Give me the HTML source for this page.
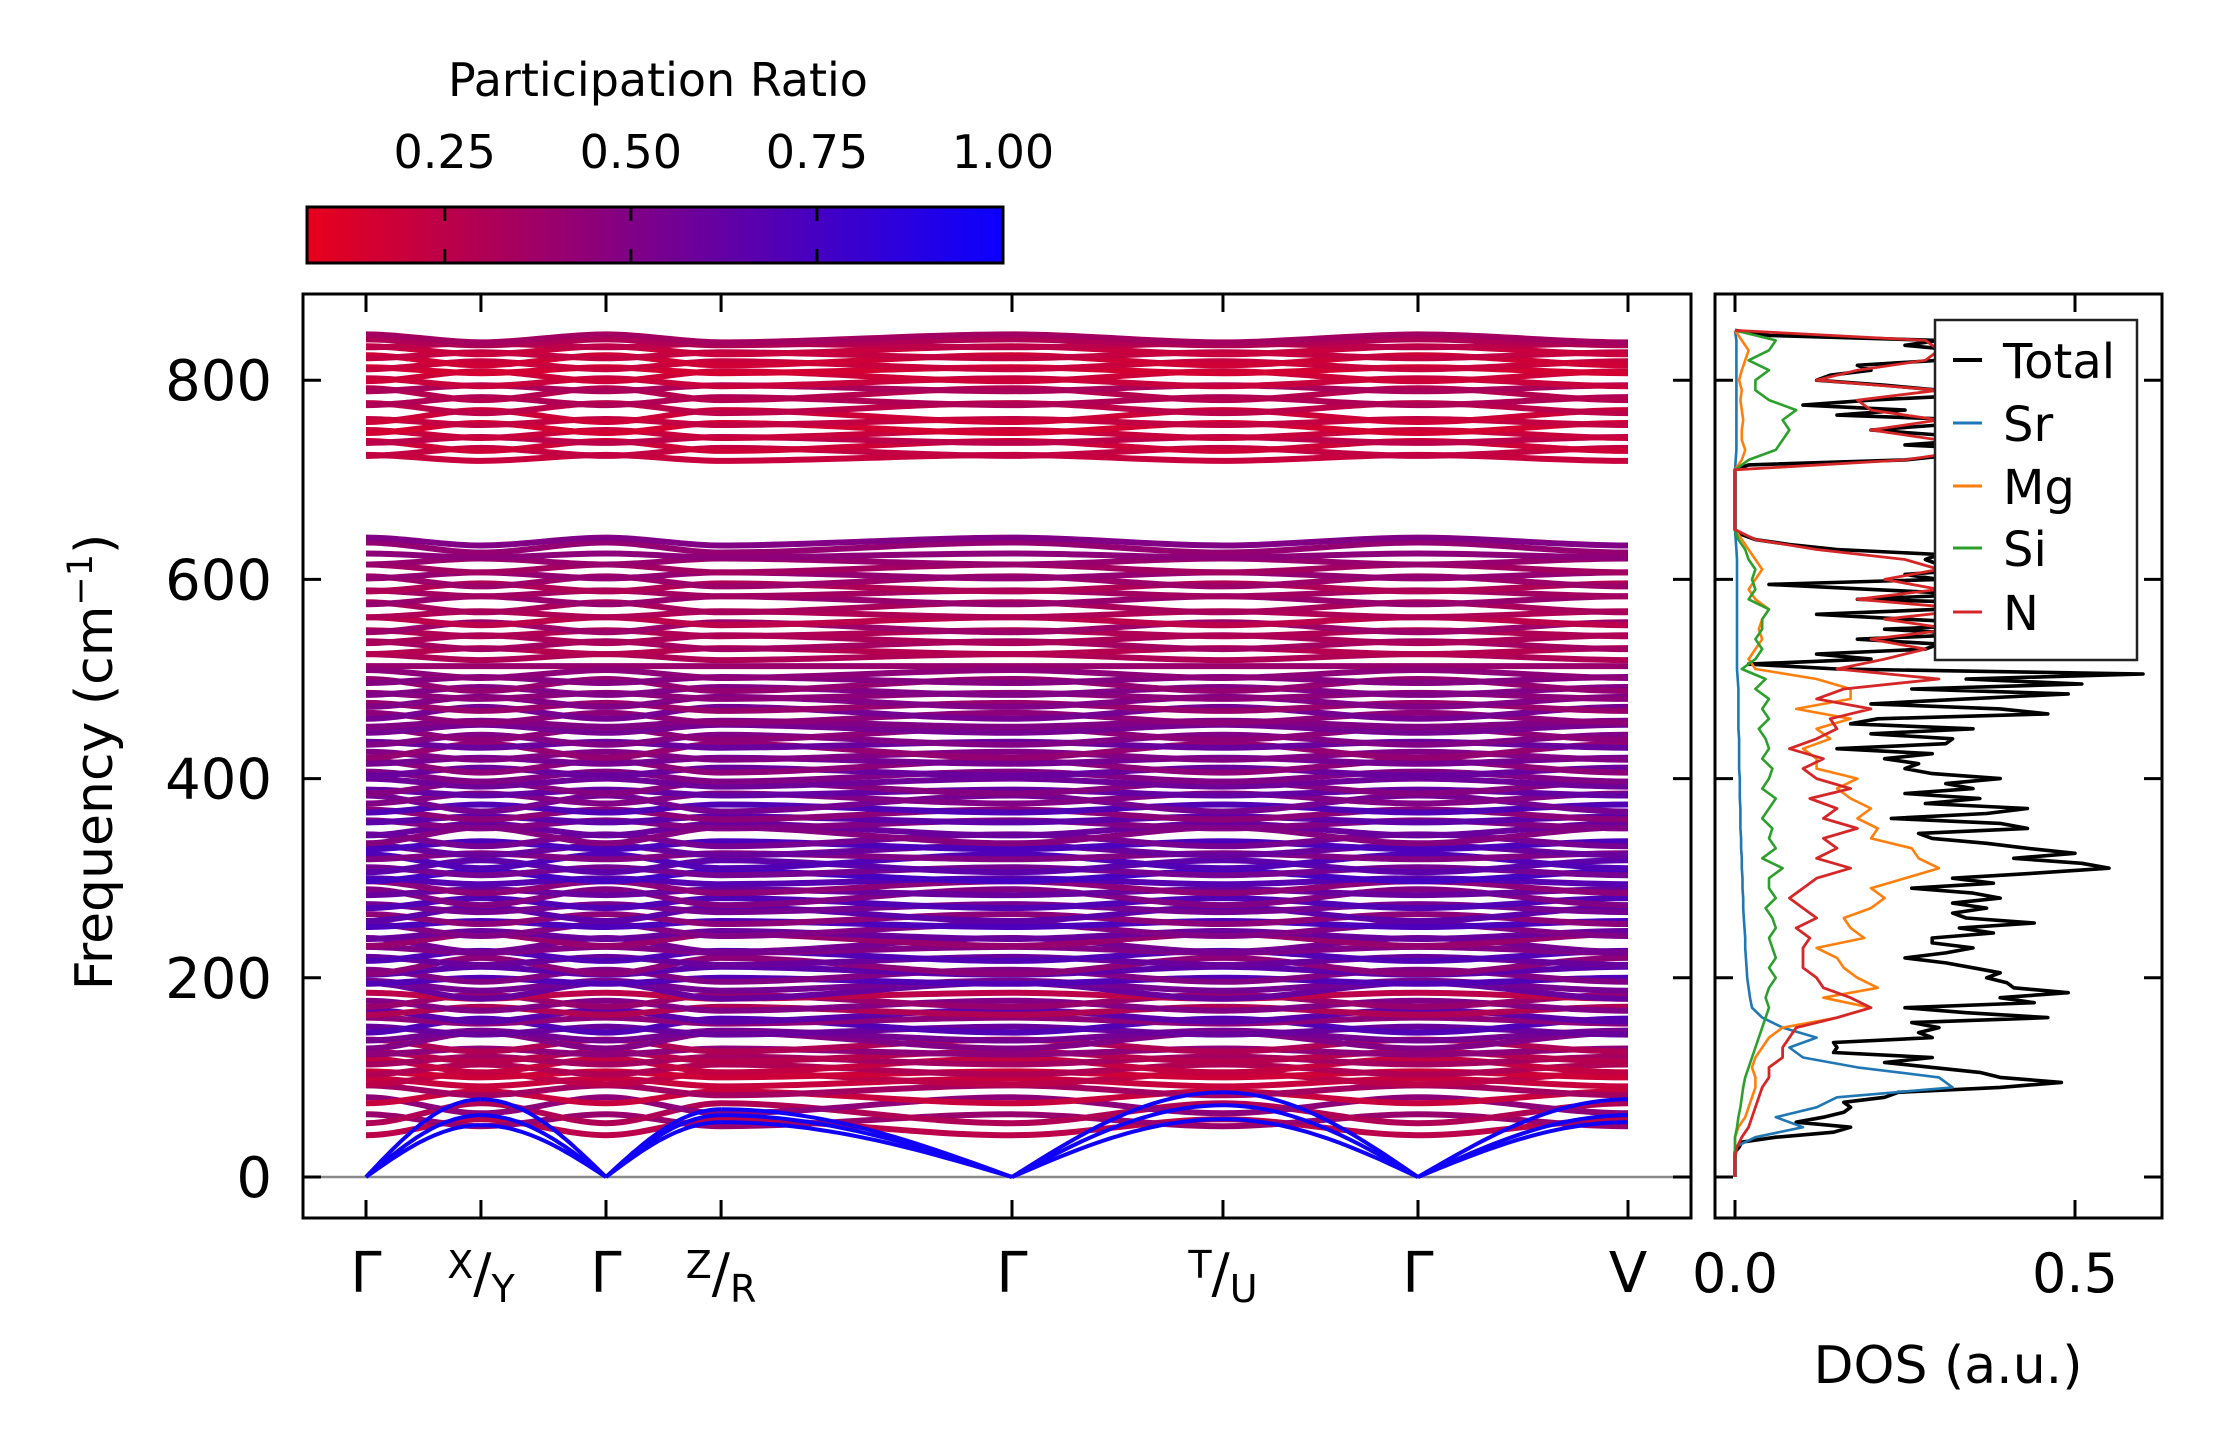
<!DOCTYPE html>
<html><head><meta charset="utf-8"><title>Phonon band structure and DOS</title>
<style>
html,body{margin:0;padding:0;background:#fff;}
svg{display:block;font-family:"DejaVu Sans","Liberation Sans",sans-serif;}
</style></head>
<body>
<svg id="fig" width="2222" height="1455" viewBox="0 0 2222 1455" xmlns="http://www.w3.org/2000/svg">
<defs>
<linearGradient id="cmap" x1="0" x2="1" y1="0" y2="0">
<stop offset="0" stop-color="rgb(232,0,28)"/>
<stop offset="1" stop-color="rgb(10,0,255)"/>
</linearGradient>
<clipPath id="mainClip"><rect x="303" y="294" width="1388" height="924"/></clipPath>
<clipPath id="dosClip"><rect x="1715" y="294" width="447" height="924"/></clipPath>
</defs>
<g id="colorbar"></g>
<g id="main"></g>
<g id="dos"></g>
</svg>
<script>
// ---------- Band structure data ----------
const kLabels = ["Γ","X/Y","Γ","Z/R","Γ","T/U","Γ","V"];
const kPos = [0.0454,0.1282,0.2183,0.3012,0.5108,0.6628,0.8033,0.9546]; // fractional position along axis
const bandFreq = [
722,728,734,740,746,752,758,764,772,779,786,792,798,804,810,815,820,825,830,835,838,842,
513,522,528,534,540,546,552,558,565,572,579,586,592,598,604,611,618,624,632,638,
50,57,64,72,80,87,
95,99,103,108,112,117,121,126,132,137,142,147,152,157,162,167,172,177,182,187,
192,197,202,207,212,217,222,228,233,238,243,248,254,259,264,270,275,281,286,291,
297,302,307,312,317,322,328,333,338,343,349,354,359,364,370,375,380,386,391,396,
402,407,412,418,423,428,434,439,445,450,455,461,466,472,477,483,488,494,499,505];
const bandDisp = [
3,-4,5,-3,4,-5,3,-6,5,-4,6,-3,4,-5,3,-4,5,-3,4,-2,3,4,
0,3,-3,4,-4,3,-5,4,-3,5,-4,3,-4,5,-3,4,-3,2,5,4,
-8,6,-10,8,-6,5,
4,-6,3,-5,7,-4,5,-3,6,-8,-5,4,-7,3,6,-4,5,-6,3,8,
5,-3,6,-4,-8,4,-5,3,7,-6,-4,6,-3,5,-7,4,-5,8,-3,6,
3,-5,4,-6,7,-3,5,-4,6,-8,-6,4,-3,5,-4,8,-5,3,-6,4,
5,-4,6,-3,4,-7,3,-5,6,-4,-3,5,-6,4,-5,3,-4,6,-3,4];
const bandPR = [
.2,.22,.18,.25,.2,.15,.22,.18,.25,.3,.28,.32,.2,.18,.15,.2,.17,.22,.2,.25,.3,.35,
.4,.3,.28,.35,.32,.3,.38,.25,.3,.33,.4,.35,.3,.38,.42,.35,.4,.45,.42,.5,
.25,.4,.3,.45,.2,.35,
.2,.25,.18,.3,.22,.35,.28,.45,.3,.5,.55,.6,.7,.45,.65,.3,.5,.4,.25,.6,
.55,.7,.5,.65,.45,.6,.7,.5,.55,.4,.6,.5,.72,.45,.65,.55,.7,.5,.6,.45,
.68,.75,.55,.65,.7,.5,.6,.72,.55,.48,.6,.5,.65,.45,.7,.55,.5,.62,.48,.58,
.5,.6,.45,.55,.5,.42,.6,.5,.45,.55,.5,.45,.55,.4,.5,.45,.5,.42,.48,.45];
const acousticX = [52,62,78];
const acousticZ = [55,62,68];
const acousticT = [58,72,85];
const acousticV = [55,62,78];
const freqTicks = [0,200,400,600,800];
const cbarTicks = [0.25,0.50,0.75,1.00];
const cbarMin = 0.065, cbarMax = 1.0;

// ---------- DOS data ----------
const dosTotal = [
0,0,0,0,0,0,0.006,0.01,0.06,0.145,
0.17,0.09,0.13,0.16,0.17,0.16,0.22,0.24,0.39,0.48,
0.39,0.36,0.29,0.22,0.29,0.145,0.15,0.145,0.29,0.27,
0.3,0.26,0.46,0.34,0.25,0.44,0.39,0.49,0.41,0.40,
0.37,0.39,0.35,0.31,0.25,0.31,0.35,0.29,0.29,0.38,
0.33,0.44,0.34,0.32,0.37,0.32,0.39,0.35,0.26,0.38,
0.32,0.44,0.55,0.51,0.41,0.50,0.43,0.37,0.29,0.27,
0.43,0.39,0.23,0.37,0.43,0.28,0.36,0.25,0.35,0.31,
0.39,0.29,0.25,0.27,0.22,0.29,0.15,0.31,0.32,0.20,
0.35,0.17,0.21,0.46,0.39,0.20,0.34,0.49,0.26,0.51,
0.34,0.60,0.15,0.02,0.2,0.12,0.28,0.3,0.18,0.35,
0.22,0.4,0.25,0.12,0.3,0.45,0.18,0.35,0.2,0.05,
0.3,0.25,0.35,0.3,0.28,0.3,0.15,0.08,0.03,0.01,
0,0,0,0,0,0,0,0,0,0,
0,0,0,0.02,0.25,0.32,0.4,0.25,0.35,0.3,
0.2,0.3,0.35,0.15,0.25,0.1,0.2,0.35,0.3,0.22,
0.12,0.14,0.2,0.18,0.3,0.35,0.33,0.25,0.3,0.05,
0];
const dosTotalStep = 5;
const dosSr = [
0,0,0,0,0.03,0.1,0.06,0.12,0.15,0.32,
0.3,0.18,0.1,0.08,0.12,0.07,0.04,0.025,0.022,0.02,
0.018,0.017,0.016,0.015,0.015,0.014,0.013,0.012,0.012,0.011,
0.011,0.01,0.01,0.009,0.009,0.008,0.008,0.008,0.007,0.007,
0.007,0.006,0.006,0.006,0.006,0.005,0.005,0.005,0.005,0.005,
0.004,0.003,0.003,0.003,0.003,0.003,0.003,0.003,0.003,0.003,
0.003,0.003,0.003,0.002,0.001,0,0,0,0,0,
0,0,0.001,0.002,0.002,0.002,0.002,0.002,0.002,0.002,
0.002,0.002,0.002,0.002,0.002,0];
const dosMg = [
0,0,0,0,0,0.005,0.015,0.02,0.025,0.03,
0.03,0.025,0.03,0.04,0.05,0.07,0.15,0.2,0.13,0.21,
0.18,0.16,0.15,0.12,0.19,0.17,0.16,0.2,0.22,0.2,
0.25,0.3,0.27,0.26,0.2,0.21,0.18,0.2,0.17,0.15,
0.18,0.12,0.12,0.1,0.14,0.12,0.17,0.09,0.17,0.17,
0.12,0.03,0.02,0.03,0.04,0.035,0.04,0.05,0.03,0.02,
0.03,0.04,0.03,0.02,0.01,0,0,0,0,0,
0,0,0.01,0.015,0.01,0.01,0.012,0.01,0.008,0.01,
0.006,0.01,0.015,0.02,0.01,0];
const dosSi = [
0,0,0,0,0,0.003,0.005,0.008,0.01,0.012,
0.015,0.02,0.025,0.03,0.035,0.04,0.045,0.05,0.045,0.05,
0.06,0.05,0.06,0.055,0.05,0.06,0.055,0.045,0.06,0.05,
0.05,0.07,0.04,0.06,0.05,0.055,0.04,0.05,0.06,0.04,
0.05,0.055,0.04,0.05,0.045,0.035,0.05,0.04,0.05,0.03,
0.045,0.01,0.03,0.04,0.03,0.04,0.04,0.05,0.02,0.03,
0.025,0.03,0.02,0.015,0.005,0,0,0,0,0,
0,0,0.02,0.06,0.07,0.08,0.07,0.09,0.05,0.03,
0.03,0.05,0.02,0.05,0.06,0];
const dosN = [
0,0,0,0.003,0.01,0.02,0.025,0.03,0.035,0.04,
0.05,0.05,0.07,0.07,0.08,0.09,0.15,0.2,0.17,0.13,
0.12,0.1,0.1,0.1,0.11,0.09,0.12,0.1,0.08,0.1,
0.12,0.17,0.12,0.15,0.13,0.18,0.13,0.15,0.11,0.17,
0.12,0.1,0.13,0.08,0.12,0.15,0.14,0.2,0.12,0.16,
0.3,0.15,0.22,0.28,0.2,0.32,0.22,0.35,0.18,0.3,
0.22,0.3,0.25,0.12,0.03,0,0,0,0,0,
0,0,0.25,0.35,0.3,0.2,0.3,0.2,0.18,0.3,
0.12,0.18,0.28,0.3,0.28,0];
const dosStep = 10;
const dosTicks = [0.0, 0.5];
const legendNames = ["Total","Sr","Mg","Si","N"];
const legendColors = ["#000000","#1f77b4","#ff7f0e","#2ca02c","#d62728"];

// ---------- geometry ----------
const NS = "http://www.w3.org/2000/svg";
const M = {l:303, r:1691, t:294, b:1218};
const D = {l:1715, r:2162, t:294, b:1218};
const kx0 = 303, kw = 1388;
function xK(u){ return kx0 + u*kw; }
function yF(f){ return 1177 - f*0.996; }
function xD(v){ return 1735 + v*680; }
function prColor(p){
  const t = Math.max(0, Math.min(1, (p-cbarMin)/(cbarMax-cbarMin)));
  return "rgb(" + Math.round(232*(1-t)+10*t) + ",0," + Math.round(28*(1-t)+255*t) + ")";
}
function mk(tag, attrs, parent){
  const e = document.createElementNS(NS, tag);
  for (const k in attrs) e.setAttribute(k, attrs[k]);
  parent.appendChild(e);
  return e;
}
function txt(parent, x, y, s, size, anchor){
  const e = mk("text", {x:x, y:y, "font-size":size, "text-anchor":anchor||"middle", fill:"#000"}, parent);
  e.textContent = s;
  return e;
}

// ---------- colorbar ----------
const cb = document.getElementById("colorbar");
const cbL = 307, cbR = 1003, cbT = 207, cbB = 263;
function xCb(v){ return cbL + (v-cbarMin)/(cbarMax-cbarMin)*(cbR-cbL); }
const cbRect = mk("rect", {x:cbL, y:cbT, width:cbR-cbL, height:cbB-cbT, fill:"url(#cmap)", stroke:"#000", "stroke-width":3}, cb);


const cbTitle = txt(cb, 658, 96, "Participation Ratio", 46);


cbarTicks.forEach(function(v){
  const x = xCb(v);
  if (v < cbarMax) {
    const t1 = mk("line", {x1:x, x2:x, y1:cbT, y2:cbT+14, stroke:"#000", "stroke-width":3}, cb);
    
    
    const t2 = mk("line", {x1:x, x2:x, y1:cbB-14, y2:cbB, stroke:"#000", "stroke-width":3}, cb);
    
    
  }
  const l = txt(cb, x, 168, v.toFixed(2), 46);
  
  
});

// ---------- main panel ----------
const mg = document.getElementById("main");
const bandsG = mk("g", {"clip-path":"url(#mainClip)"}, mg);


const zl = mk("line", {x1:M.l, x2:M.r, y1:yF(0), y2:yF(0), stroke:"#888", "stroke-width":2.5}, bandsG);


const sgn = [1,-1,1,-1,1,-1,1,-1];
function smoothPath(vals){
  let d = "M" + xK(kPos[0]).toFixed(1) + "," + yF(vals[0]).toFixed(1);
  for (let i=1;i<kPos.length;i++){
    const xa = xK(kPos[i-1]), xb = xK(kPos[i]);
    const c1 = xa + (xb-xa)/3, c2 = xa + 2*(xb-xa)/3;
    d += " C" + c1.toFixed(1) + "," + yF(vals[i-1]).toFixed(1) + " " + c2.toFixed(1) + "," + yF(vals[i]).toFixed(1) + " " + xb.toFixed(1) + "," + yF(vals[i]).toFixed(1);
  }
  return d;
}
bandFreq.forEach(function(f, i){
  const vals = sgn.map(function(s){ return f + bandDisp[i]*s; });
  const p = mk("path", {d:smoothPath(vals), fill:"none", stroke:prColor(bandPR[i]), "stroke-width":6}, bandsG);
  
  
});
// acoustic branches: Γ -> boundary on each segment
const segs = [[0,1,acousticX],[2,1,acousticX],[2,3,acousticZ],[4,3,acousticZ],[4,5,acousticT],[6,5,acousticT],[6,7,acousticV]];
segs.forEach(function(sg){
  const xa = xK(kPos[sg[0]]), xb = xK(kPos[sg[1]]);
  sg[2].forEach(function(endF){
    let d = "";
    for (let j=0;j<=30;j++){
      const t = j/30;
      const f = endF*Math.sin(Math.PI/2*t);
      d += (j?" L":"M") + (xa+(xb-xa)*t).toFixed(1) + "," + yF(f).toFixed(1);
    }
    const p = mk("path", {d:d, fill:"none", stroke:prColor(0.97), "stroke-width":4}, bandsG);
    
    
  });
});
const mFrame = mk("rect", {x:M.l, y:M.t, width:M.r-M.l, height:M.b-M.t, fill:"none", stroke:"#000", "stroke-width":3}, mg);


freqTicks.forEach(function(f){
  const y = yF(f);
  const a = mk("line", {x1:M.l, x2:M.l+18, y1:y, y2:y, stroke:"#000", "stroke-width":3}, mg);
  
  
  const b = mk("line", {x1:M.r-18, x2:M.r, y1:y, y2:y, stroke:"#000", "stroke-width":3}, mg);
  
  
  const l = txt(mg, 272, y+20, String(f), 56, "end");
  
  
});
kPos.forEach(function(u, i){
  const x = xK(u);
  const a = mk("line", {x1:x, x2:x, y1:M.b-18, y2:M.b, stroke:"#000", "stroke-width":3}, mg);
  
  
  const b = mk("line", {x1:x, x2:x, y1:M.t, y2:M.t+18, stroke:"#000", "stroke-width":3}, mg);
  
  
  const lab = kLabels[i];
  let t;
  if (lab.indexOf("/") > 0) {
    const parts = lab.split("/");
    t = mk("text", {x:x, y:1292, "font-size":54, "text-anchor":"middle"}, mg);
    const s1 = mk("tspan", {"font-size":38, dy:-14}, t); s1.textContent = parts[0];
    const s2 = mk("tspan", {"font-size":54, dy:14}, t); s2.textContent = "/";
    const s3 = mk("tspan", {"font-size":38, dy:10}, t); s3.textContent = parts[1];
  } else {
    t = txt(mg, x, 1292, lab, 56);
  }
  
  
});
const yt = mk("text", {x:0, y:0, "font-size":52, "text-anchor":"middle", transform:"translate(112,762) rotate(-90)"}, mg);


const yt1 = mk("tspan", {}, yt); yt1.textContent = "Frequency (cm";
const yt2 = mk("tspan", {"font-size":35, dy:-20}, yt); yt2.textContent = "−1";
const yt3 = mk("tspan", {dy:20}, yt); yt3.textContent = ")";

// ---------- DOS panel ----------
const dg = document.getElementById("dos");
const curvesG = mk("g", {"clip-path":"url(#dosClip)"}, dg);


function dosPath(arr, step){
  let d = "";
  arr.forEach(function(v, i){
    d += (i?" L":"M") + xD(v).toFixed(1) + "," + yF(i*step).toFixed(1);
  });
  return d;
}
const series = [[dosTotal,dosTotalStep,0,"dos-total",3.6],[dosSr,dosStep,1,"dos-sr",2.6],[dosMg,dosStep,2,"dos-mg",2.6],[dosSi,dosStep,3,"dos-si",2.6],[dosN,dosStep,4,"dos-n",2.8]];
series.forEach(function(s){
  const p = mk("path", {d:dosPath(s[0], s[1]), fill:"none", stroke:legendColors[s[2]], "stroke-width":s[4], "stroke-linejoin":"round"}, curvesG);
  
  
});
const dFrame = mk("rect", {x:D.l, y:D.t, width:D.r-D.l, height:D.b-D.t, fill:"none", stroke:"#000", "stroke-width":3}, dg);


freqTicks.forEach(function(f){
  const y = yF(f);
  const a = mk("line", {x1:D.l, x2:D.l+18, y1:y, y2:y, stroke:"#000", "stroke-width":3}, dg);
  
  
  const b = mk("line", {x1:D.r-18, x2:D.r, y1:y, y2:y, stroke:"#000", "stroke-width":3}, dg);
  
  
});
dosTicks.forEach(function(v){
  const x = xD(v);
  const a = mk("line", {x1:x, x2:x, y1:D.b-18, y2:D.b, stroke:"#000", "stroke-width":3}, dg);
  
  
  const b = mk("line", {x1:x, x2:x, y1:D.t, y2:D.t+18, stroke:"#000", "stroke-width":3}, dg);
  
  
  const l = txt(dg, x, 1292, v.toFixed(1), 54);
  
  
});
const dl = txt(dg, 1948, 1383, "DOS (a.u.)", 52);


// legend
const lg = mk("g", {}, dg);


const lbox = mk("rect", {x:1935, y:320, width:202, height:340, fill:"#fff", stroke:"#222", "stroke-width":2.5}, lg);


const legY = [360,423,486,548,612];
legendNames.forEach(function(n, i){
  const ln = mk("line", {x1:1953, x2:1982, y1:legY[i], y2:legY[i], stroke:legendColors[i], "stroke-width": i===0?4:3}, lg);
  
  
  const t = txt(lg, 2003, legY[i]+18, n, 48, "start");
  
  
});
</script>
</body></html>
